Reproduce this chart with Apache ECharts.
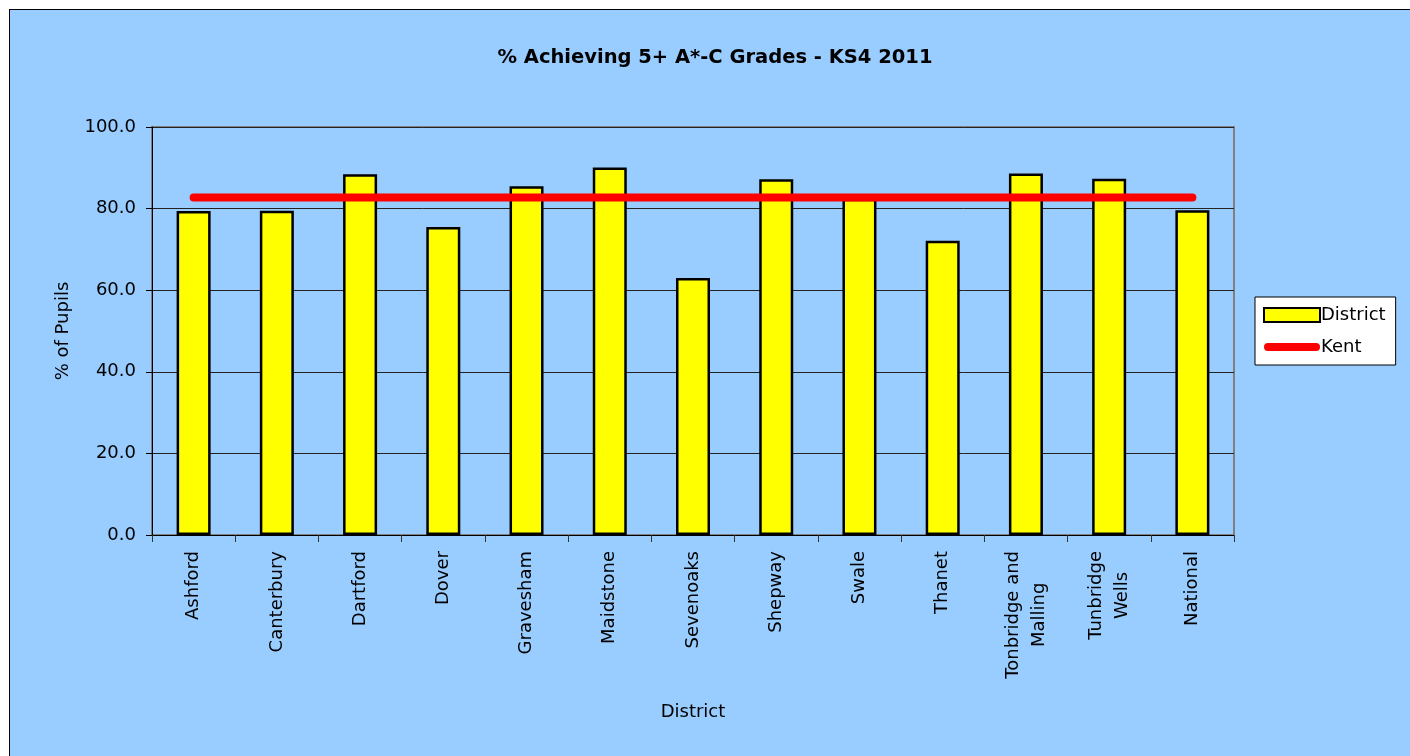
<!DOCTYPE html>
<html>
<head>
<meta charset="utf-8">
<script src="https://cdn.jsdelivr.net/npm/echarts@6/dist/echarts.min.js"></script>
<style>
html,body{margin:0;padding:0;background:#fff;overflow:hidden;}
#c{position:absolute;left:9px;top:9px;width:1410px;height:756px;border:1px solid #000;background:#99CCFF;}
</style>
</head>
<body>
<div id="c"></div>
<script>
const categories = ['Ashford','Canterbury','Dartford','Dover','Gravesham','Maidstone','Sevenoaks','Shepway','Swale','Thanet','Tonbridge and\nMalling','Tunbridge\nWells','National'];
const districtValues = [79.4, 79.5, 88.4, 75.5, 85.5, 90.1, 63.0, 87.2, 82.4, 72.1, 88.6, 87.3, 79.6];
const kentValues = [82.7, 82.7, 82.7, 82.7, 82.7, 82.7, 82.7, 82.7, 82.7, 82.7, 82.7, 82.7, 82.7];
const yTicks = {min: 0, max: 100, interval: 20};

const font = 'DejaVu Sans';
const chart = echarts.init(document.getElementById('c'), null, {renderer: 'canvas'});
chart.setOption({
  animation: false,
  backgroundColor: '#99CCFF',
  textStyle: {fontFamily: font},
  title: {
    text: '% Achieving 5+ A*-C Grades - KS4 2011',
    left: 'center', top: 33,
    textStyle: {fontFamily: font, fontSize: 19.5, fontWeight: 'bold', color: '#000'}
  },
  legend: {
    orient: 'vertical',
    left: 1245, top: 287,
    backgroundColor: '#fff',
    borderColor: '#000', borderWidth: 1,
    padding: [9, 10, 9, 8],
    itemGap: 14,
    itemWidth: 56, itemHeight: 14,
    symbolKeepAspect: true,
    textStyle: {fontFamily: font, fontSize: 18, color: '#000', padding: [0,0,0,-4]},
    data: [
      {name: 'District', icon: 'rect', itemStyle: {color: '#FFFF00', borderColor: '#000', borderWidth: 2}},
      {name: 'Kent', icon: 'path://M4,0 L52,0 A4,4 0 0 1 52,8 L4,8 A4,4 0 0 1 4,0 Z', itemStyle: {color: '#FF0000', borderWidth: 0}}
    ]
  },
  grid: {
    left: 142, top: 117, width: 1082, height: 408,
    show: true, borderColor: '#808080', borderWidth: 2, backgroundColor: 'transparent'
  },
  xAxis: {
    type: 'category',
    data: categories,
    name: 'District', nameLocation: 'middle', nameGap: 168,
    nameTextStyle: {fontFamily: font, fontSize: 18, color: '#000'},
    axisLine: {lineStyle: {color: '#000', width: 1}},
    axisTick: {show: true, length: 7, alignWithLabel: false, lineStyle: {color: '#333'}},
    axisLabel: {
      rotate: 90, fontFamily: font, fontSize: 18, color: '#000', margin: 16, lineHeight: 26,
      formatter: v => v.split('\n').map(s => '{c|' + s + '}').join('\n'),
      rich: {c: {align: 'center', fontFamily: font, fontSize: 18, color: '#000', lineHeight: 26}}
    }
  },
  yAxis: {
    type: 'value',
    min: yTicks.min, max: yTicks.max, interval: yTicks.interval,
    name: '% of Pupils', nameLocation: 'middle', nameGap: 80,
    nameTextStyle: {fontFamily: font, fontSize: 18, color: '#000'},
    axisLine: {show: true, lineStyle: {color: '#000', width: 1}},
    axisTick: {show: true, length: 6, lineStyle: {color: '#000'}},
    axisLabel: {fontFamily: font, fontSize: 18, color: '#000', margin: 16, formatter: v => v.toFixed(1)},
    splitLine: {show: true, lineStyle: {color: '#222', width: 1}}
  },
  series: [
    {
      name: 'District', type: 'bar',
      data: districtValues,
      barWidth: 34,
      itemStyle: {color: '#FFFF00', borderColor: '#000', borderWidth: 2.5}
    },
    {
      name: 'Kent', type: 'line',
      data: kentValues,
      symbol: 'none',
      lineStyle: {color: '#FF0000', width: 8, cap: 'round'},
      itemStyle: {color: '#FF0000'},
      z: 5
    }
  ]
});
</script>
</body>
</html>
